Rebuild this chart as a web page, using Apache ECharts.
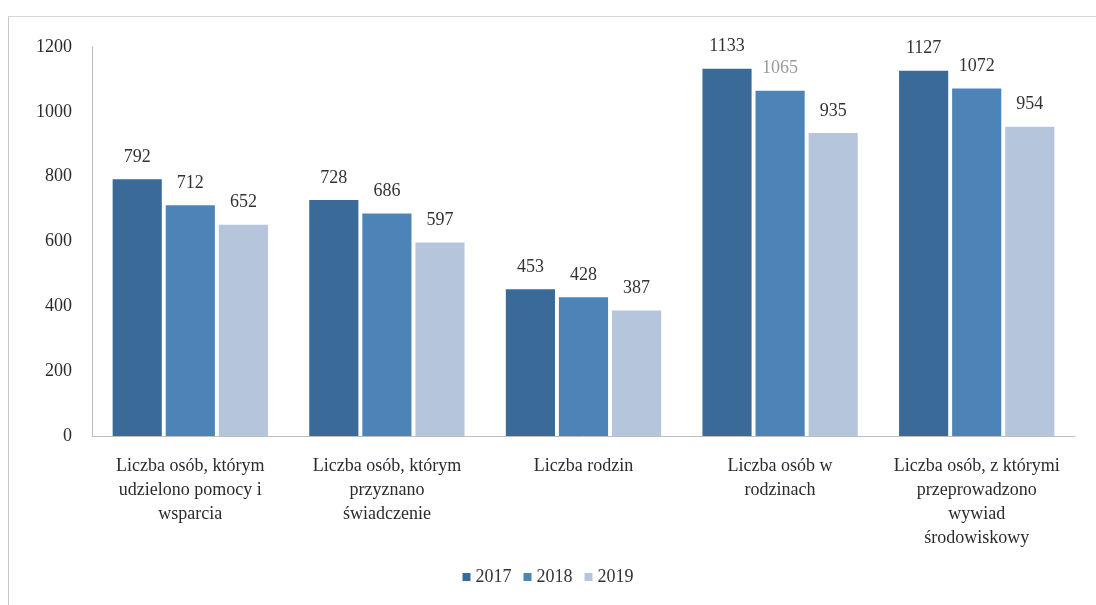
<!DOCTYPE html>
<html>
<head>
<meta charset="utf-8">
<script src="https://cdn.jsdelivr.net/npm/echarts@6/dist/echarts.min.js"></script>
<style>
  html, body { margin: 0; padding: 0; background: #fff; }
  #frame {
    position: absolute; left: 8px; top: 16px; width: 1100px; height: 600px;
    border-left: 1px solid #c8c8c8; border-top: 1px solid #d4d4d4;
  }
  #chart { position: absolute; left: 0; top: 0; width: 1096px; height: 605px; }
</style>
</head>
<body>
<div id="frame"></div>
<div id="chart"></div>
<script>
const categories = [
  'Liczba osób, którym\nudzielono pomocy i\nwsparcia',
  'Liczba osób, którym\nprzyznano\nświadczenie',
  'Liczba rodzin',
  'Liczba osób w\nrodzinach',
  'Liczba osób, z którymi\nprzeprowadzono\nwywiad\nśrodowiskowy',
];
const years = ['2017', '2018', '2019'];
const values2017 = [792, 728, 453, 1133, 1127];
const values2018 = [712, 686, 428, 1065, 1072];
const values2019 = [652, 597, 387, 935, 954];
const yTicks = [0, 200, 400, 600, 800, 1000, 1200];

const colors = ['#3a6a98', '#4c84b7', '#b5c5dc'];
const serif = 'Liberation Serif';

const chart = echarts.init(document.getElementById('chart'));

const makeSeries = (name, data, color) => ({
  name,
  type: 'bar',
  data,
  barGap: '8%',
  barCategoryGap: '21%',
  itemStyle: { color },
  label: {
    show: true,
    position: 'top',
    distance: 13,
    fontFamily: serif,
    fontSize: 18,
    color: '#333',
  },
});

const series = [
  makeSeries(years[0], values2017, colors[0]),
  makeSeries(years[1], values2018, colors[1]),
  makeSeries(years[2], values2019, colors[2]),
];
// 1065 is printed lighter in the scan
series[1].data = values2018.map((v, i) =>
  i === 3 ? { value: v, label: { color: '#9a9a9a' } } : v);

chart.setOption({
  animation: false,
  grid: { left: 92, right: 21, top: 47, bottom: 169 },
  legend: {
    bottom: 14,
    left: 'center',
    itemWidth: 8,
    itemHeight: 8,
    itemGap: 12,
    icon: 'rect',
    textStyle: { fontFamily: serif, fontSize: 18, color: '#333' },
    data: years,
  },
  xAxis: {
    type: 'category',
    data: categories,
    axisLine: { lineStyle: { color: '#bdbdbd' } },
    axisTick: { show: false },
    axisLabel: {
      interval: 0,
      margin: 18,
      fontFamily: serif,
      fontSize: 18,
      lineHeight: 24,
      color: '#2b2b2b',
      verticalAlign: 'top',
    },
  },
  yAxis: {
    type: 'value',
    min: yTicks[0],
    max: yTicks[yTicks.length - 1],
    interval: 200,
    axisLine: { show: true, lineStyle: { color: '#bdbdbd' } },
    axisTick: { show: false },
    splitLine: { show: false },
    axisLabel: {
      margin: 20,
      fontFamily: serif,
      fontSize: 18,
      color: '#2b2b2b',
      formatter: (v) => String(v),
    },
  },
  series,
});
</script>
</body>
</html>
